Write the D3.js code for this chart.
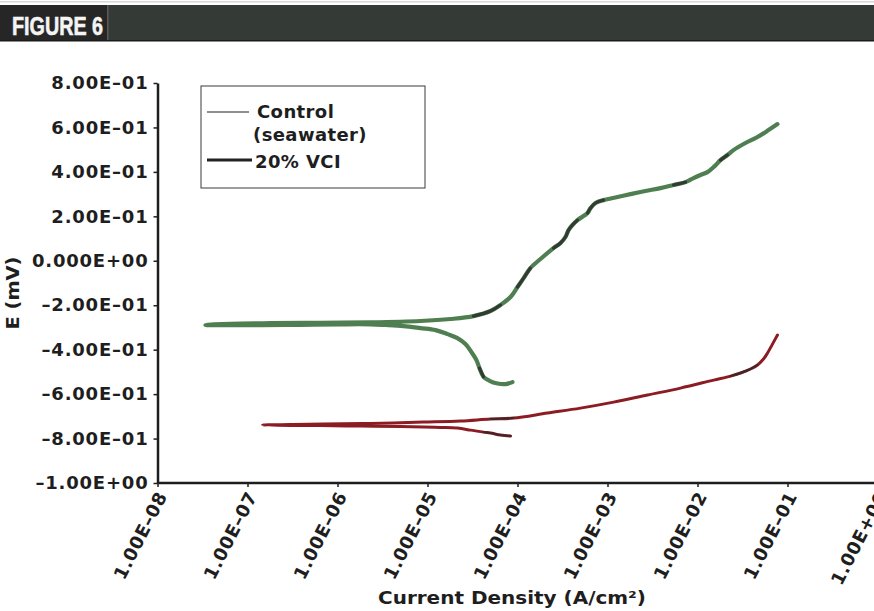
<!DOCTYPE html>
<html>
<head>
<meta charset="utf-8">
<script src="https://cdn.jsdelivr.net/npm/d3@7/dist/d3.min.js"></script>
<style>
  html, body { margin: 0; padding: 0; background: #fff; }
  svg { display: block; }
  text { font-family: "DejaVu Sans", "Liberation Sans", sans-serif; font-weight: bold; fill: #1e1e1e; }
</style>
</head>
<body>
<svg id="chart" width="874" height="611"></svg>
<script>
// Polarization scans: current density (A/cm²) against potential E.
// Each scan runs from its cathodic end, back to the low-current tip, then anodic.
const controlCurrent = [
  8.79e-5, 7.36e-5, 6.00e-5, 4.89e-5, 4.19e-5, 3.78e-5, 3.50e-5, 3.08e-5, 2.64e-5, 2.15e-5,
  1.67e-5, 1.23e-5, 8.36e-6, 5.41e-6, 3.41e-6, 2.33e-6, 1.08e-6, 3.88e-7, 1.39e-7, 6.47e-8,
  3.41e-8, 6.47e-8, 1.80e-7, 6.47e-7, 2.33e-6, 8.36e-6, 1.80e-5, 3.24e-5, 5.01e-5, 6.47e-5,
  8.36e-5, 1.00e-4, 1.17e-4, 1.39e-4, 1.80e-4, 2.51e-4, 3.01e-4, 3.41e-4, 3.69e-4, 4.08e-4,
  4.64e-4, 6.00e-4, 6.47e-4, 7.36e-4, 9.03e-4, 1.29e-3, 1.80e-3, 2.64e-3, 3.88e-3, 5.41e-3,
  7.36e-3, 9.03e-3, 1.08e-2, 1.29e-2, 1.55e-2, 1.80e-2, 2.15e-2, 2.51e-2, 3.41e-2, 4.64e-2,
  6.15e-2, 7.74e-2
];
const controlPotential = [
  -0.546, -0.555, -0.552, -0.540, -0.522, -0.483, -0.447, -0.411, -0.375, -0.348,
  -0.330, -0.312, -0.303, -0.294, -0.289, -0.286, -0.286, -0.288, -0.290, -0.290,
  -0.289, -0.284, -0.281, -0.279, -0.277, -0.271, -0.262, -0.249, -0.226, -0.199,
  -0.163, -0.118, -0.078, -0.033, 0.008, 0.057, 0.080, 0.107, 0.138, 0.161,
  0.183, 0.215, 0.237, 0.260, 0.273, 0.287, 0.300, 0.314, 0.327, 0.341,
  0.354, 0.372, 0.386, 0.399, 0.426, 0.453, 0.476, 0.498, 0.530, 0.557,
  0.588, 0.615
];
const vciCurrent = [
  8.36e-5, 6.47e-5, 5.01e-5, 4.19e-5, 3.01e-5, 2.15e-5, 1.39e-5, 9.03e-6, 5.01e-6, 1.80e-6,
  6.47e-7, 3.01e-7, 1.47e-7, 3.01e-7, 6.99e-7, 2.33e-6, 9.03e-6, 2.33e-5, 5.01e-5, 9.03e-5,
  2.15e-4, 5.01e-4, 1.17e-3, 2.78e-3, 6.47e-3, 1.51e-2, 2.33e-2, 3.01e-2, 3.88e-2, 4.64e-2,
  5.41e-2, 6.00e-2, 6.81e-2, 7.74e-2
];
const vciPotential = [
  -0.789, -0.784, -0.775, -0.771, -0.762, -0.753, -0.750, -0.748, -0.746, -0.744,
  -0.741, -0.741, -0.739, -0.737, -0.735, -0.732, -0.726, -0.721, -0.712, -0.708,
  -0.685, -0.663, -0.636, -0.604, -0.573, -0.537, -0.519, -0.505, -0.487, -0.469,
  -0.442, -0.415, -0.375, -0.334
];

const xTickValues = [1e-8, 1e-7, 1e-6, 1e-5, 1e-4, 1e-3, 1e-2, 1e-1, 1];
const xTickLabels = ["1.00E–08", "1.00E–07", "1.00E–06", "1.00E–05", "1.00E–04",
                     "1.00E–03", "1.00E–02", "1.00E–01", "1.00E+00"];
const yTickValues = [-1, -0.8, -0.6, -0.4, -0.2, 0, 0.2, 0.4, 0.6, 0.8];
const yTickLabels = ["–1.00E+00", "–8.00E–01", "–6.00E–01", "–4.00E–01", "–2.00E–01",
                     "0.000E+00", "2.00E–01", "4.00E–01", "6.00E–01", "8.00E–01"];
const legendLines = ["Control", "(seawater)", "20% VCI"];

// Darker stretches along each trace (index ranges into the arrays above).
const controlDarkSpans = [[4, 5], [27, 29], [31, 33], [35, 40], [41, 44], [49, 50], [55, 56]];
const vciDarkSpans = [[0, 3], [18, 19], [26, 29]];

const svg = d3.select("#chart");
const W = 874, H = 611;

// ---- header band ----
svg.append("rect").attr("x", 0).attr("y", 1).attr("width", W).attr("height", 1.5).attr("fill", "#d8d8d8");
svg.append("rect").attr("x", 0).attr("y", 5).attr("width", W).attr("height", 36).attr("fill", "#343a35");
svg.append("rect").attr("x", 0).attr("y", 5).attr("width", 107).attr("height", 36).attr("fill", "#262626");
svg.append("rect").attr("x", 107).attr("y", 5).attr("width", 1.5).attr("height", 36).attr("fill", "#5a5a5a");
svg.append("rect").attr("x", 0).attr("y", 40).attr("width", W).attr("height", 1.5).attr("fill", "#1a1a1a");
svg.append("text")
  .attr("x", 12).attr("y", 35)
  .attr("textLength", 91).attr("lengthAdjust", "spacingAndGlyphs")
  .style("font-family", "'Liberation Sans Narrow', 'Liberation Sans', sans-serif")
  .style("font-size", "25px")
  .style("fill", "#f4f4f4")
  .style("stroke", "#f4f4f4").style("stroke-width", "0.6px")
  .text("FIGURE 6");

// ---- scales ----
const x = d3.scaleLog().domain([1e-8, 1]).range([157.5, 877.5]);
const y = d3.scaleLinear().domain([-1, 0.8]).range([483, 83]);

// ---- axes ----
const yAxis = d3.axisLeft(y)
  .tickValues(yTickValues)
  .tickFormat((d, i) => yTickLabels[i])
  .tickSize(4).tickSizeOuter(0).tickPadding(5);
const gy = svg.append("g").attr("transform", `translate(${x(1e-8)},0)`).call(yAxis);
gy.select(".domain").attr("stroke", "#1e1e1e").attr("stroke-width", 2.5);
gy.selectAll(".tick line").attr("stroke", "#1e1e1e").attr("stroke-width", 1.5);
gy.selectAll(".tick text")
  .style("font-size", "18px").style("letter-spacing", "0.8px")
  .attr("fill", "#1e1e1e");

const xAxis = d3.axisBottom(x)
  .tickValues(xTickValues)
  .tickFormat((d, i) => xTickLabels[i])
  .tickSize(4).tickSizeOuter(0);
const gx = svg.append("g").attr("transform", `translate(0,${y(-1)})`).call(xAxis);
gx.select(".domain").attr("d", `M${x(1e-8)},0H${W + 10}`).attr("stroke", "#1e1e1e").attr("stroke-width", 2.5);
gx.selectAll(".tick line").attr("stroke", "#1e1e1e").attr("stroke-width", 1.5);
gx.selectAll(".tick text")
  .attr("x", 0).attr("y", 0).attr("dy", "0.35em")
  .attr("transform", "translate(4,10) rotate(-63)")
  .attr("text-anchor", "end")
  .attr("fill", "#1e1e1e")
  .style("font-size", "18px").style("letter-spacing", "0.6px");

// ---- axis titles ----
svg.append("text")
  .attr("x", 512).attr("y", 604)
  .attr("text-anchor", "middle")
  .attr("textLength", 268).attr("lengthAdjust", "spacingAndGlyphs")
  .style("font-size", "17px")
  .text("Current Density (A/cm²)");

svg.append("text")
  .attr("transform", "translate(19,293) rotate(-90)")
  .attr("text-anchor", "middle")
  .attr("textLength", 73).attr("lengthAdjust", "spacingAndGlyphs")
  .style("font-size", "17px")
  .text("E (mV)");

// ---- traces ----
const line = d3.line()
  .x(d => x(d.i))
  .y(d => y(d.e))
  .curve(d3.curveCatmullRom.alpha(0.5));

function toPoints(cur, pot) {
  return cur.map((c, k) => ({ i: c, e: pot[k] }));
}

function drawTrace(points, color, width, spans) {
  const g = svg.append("g");
  g.append("path")
    .attr("d", line(points))
    .attr("fill", "none")
    .attr("stroke", color)
    .attr("stroke-width", width)
    .attr("stroke-linecap", "round")
    .attr("stroke-linejoin", "round");
  spans.forEach(([a, b]) => {
    g.append("path")
      .attr("d", line(points.slice(a, b + 1)))
      .attr("fill", "none")
      .attr("stroke", "#2b2b2b")
      .attr("stroke-width", width - 1)
      .attr("stroke-linecap", "round")
      .attr("opacity", 0.8);
  });
}

drawTrace(toPoints(controlCurrent, controlPotential), "#4f7f50", 4.2, controlDarkSpans);
drawTrace(toPoints(vciCurrent, vciPotential), "#8c1c24", 3, vciDarkSpans);

// ---- legend ----
const lg = svg.append("g");
lg.append("rect")
  .attr("x", 201).attr("y", 86).attr("width", 224).attr("height", 102)
  .attr("fill", "#fff").attr("stroke", "#3a3a3a").attr("stroke-width", 1);
lg.append("line")
  .attr("x1", 207).attr("x2", 249).attr("y1", 112).attr("y2", 112)
  .attr("stroke", "#6a6a6a").attr("stroke-width", 1.5);
lg.append("line")
  .attr("x1", 207).attr("x2", 252).attr("y1", 160).attr("y2", 160)
  .attr("stroke", "#222").attr("stroke-width", 3.2);
const legendPos = [[257, 118], [253, 141], [255, 168]];
legendLines.forEach((t, k) => {
  lg.append("text")
    .attr("x", legendPos[k][0]).attr("y", legendPos[k][1])
    .style("font-size", "18px").style("letter-spacing", "0.4px")
    .text(t);
});
</script>
</body>
</html>
